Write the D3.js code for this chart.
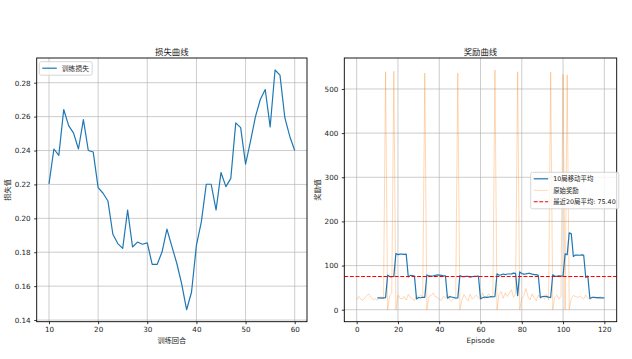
<!DOCTYPE html>
<html><head><meta charset="utf-8">
<script src="https://cdn.jsdelivr.net/npm/d3@7"></script>
<style>
body{margin:0;background:#fff;}
svg text{font-family:"DejaVu Sans","Noto Sans CJK SC",sans-serif;fill:#222;}
</style></head>
<body><svg id="c" width="632" height="359"></svg>
<script>
// ---- data ----
const lossEpisodes = d3.range(10, 61);
const lossValues = [0.2203,0.2409,0.2371,0.2642,0.2547,0.2503,0.2409,0.2582,0.2400,0.2391,
0.2181,0.2148,0.2102,0.1906,0.1851,0.1823,0.2049,0.1831,0.1860,0.1847,
0.1855,0.1728,0.1728,0.1801,0.1936,0.1835,0.1735,0.1614,0.1461,0.1564,
0.1841,0.1979,0.2201,0.2201,0.2049,0.2270,0.2187,0.2236,0.2563,0.2535,
0.2320,0.2454,0.2598,0.2701,0.2760,0.2539,0.2875,0.2845,0.2592,0.2483,0.2400];
const lossXTicks = [10,20,30,40,50,60];
const lossYTicks = [0.14,0.16,0.18,0.20,0.22,0.24,0.26,0.28];

const rawEpisodes = d3.range(0, 120);
const rawRewards = [22,30,24,21,27,33,35,28,22,25,
21,26,30,24,539,0,31,37,540,0,
33,26,24,30,22,35,28,24,21,32,
29,34,26,536,0,30,32,38,30,28,
24,21,30,27,35,23,20,26,31,536,
0,22,34,26,20,35,24,29,33,27,
22,38,25,30,36,27,33,543,0,35,
41,26,38,30,38,45,28,36,539,0,
25,32,48,30,22,36,27,20,33,26,
31,24,35,22,538,0,28,33,24,30,
533,0,532,0,25,32,30,28,30,28,
24,33,26,22,27,27,29,24,31,27];
const maEpisodes = d3.range(10, 121);
const maRewards = [26.7,26.6,26.2,26.8,27.1,78.3,75.0,74.6,75.5,127.3,
124.8,126.0,126.0,125.4,126.0,74.3,77.8,77.5,76.2,24.3,
27.5,27.1,27.9,28.1,78.7,76.5,76.0,76.4,77.8,78.7,
78.3,77.8,76.5,76.9,26.0,29.5,28.8,27.6,26.4,26.5,
77.3,74.9,75.0,75.4,75.3,73.8,75.0,75.4,75.7,75.9,
25.0,27.2,28.8,27.9,28.3,29.9,29.1,30.0,81.4,78.1,
78.9,80.8,79.6,80.9,80.9,81.1,82.9,82.4,31.7,85.6,
82.1,80.5,81.1,82.1,82.1,80.5,79.6,79.5,77.9,27.3,
29.9,30.5,29.7,28.4,27.6,79.2,75.6,75.7,77.0,76.1,
76.5,126.7,124.3,174.0,171.8,120.5,123.7,123.9,123.4,124.0,
123.8,72.9,76.2,25.6,27.8,28.0,27.5,27.4,27.0,27.1,27.0];
const recentMean = 75.40;
const rewardXTicks = [0,20,40,60,80,100,120];
const rewardYTicks = [0,100,200,300,400,500];

const labels = {
  lossTitle: "损失曲线", lossX: "训练回合", lossY: "损失值", lossLegend: "训练损失",
  rewardTitle: "奖励曲线", rewardX: "Episode", rewardY: "奖励值",
  maLegend: "10局移动平均", rawLegend: "原始奖励", meanLegend: "最近20局平均: " + recentMean.toFixed(2)
};

// ---- drawing ----
const svg = d3.select("#c");
const TOP = 58, BOTTOM = 321.7;

function panel(x0, x1, xs, ys, xTicks, yTicks, yFmt, title, xl, yl, ylX) {
  const g = svg.append("g");
  g.append("g").selectAll("line").data(xTicks).join("line")
    .attr("x1", d => xs(d)).attr("x2", d => xs(d)).attr("y1", TOP).attr("y2", BOTTOM)
    .attr("stroke", "#b0b0b0").attr("stroke-opacity", 0.8).attr("stroke-width", 0.8);
  g.append("g").selectAll("line").data(yTicks).join("line")
    .attr("x1", x0).attr("x2", x1).attr("y1", d => ys(d)).attr("y2", d => ys(d))
    .attr("stroke", "#b0b0b0").attr("stroke-opacity", 0.8).attr("stroke-width", 0.8);
  const ax = g.append("g").attr("transform", `translate(0,${BOTTOM})`)
    .call(d3.axisBottom(xs).tickValues(xTicks).tickSize(2.5).tickPadding(2.6).tickFormat(d3.format("d")));
  const ay = g.append("g").attr("transform", `translate(${x0},0)`)
    .call(d3.axisLeft(ys).tickValues(yTicks).tickSize(2.5).tickPadding(3.5).tickFormat(yFmt));
  [ax, ay].forEach(a => {
    a.select(".domain").remove();
    a.selectAll(".tick line").attr("stroke", "#000").attr("stroke-width", 0.8);
    a.selectAll(".tick text").attr("font-size", "7.2px").style("font-family", '"DejaVu Sans",sans-serif');
  });
  g.append("text").attr("x", (x0 + x1) / 2).attr("y", 54.5).attr("text-anchor", "middle")
    .attr("font-size", "8.4px").text(title);
  g.append("text").attr("x", (x0 + x1) / 2).attr("y", 342.5).attr("text-anchor", "middle")
    .attr("font-size", "7.2px").text(xl);
  g.append("text").attr("transform", `translate(${ylX},${(TOP + BOTTOM) / 2}) rotate(-90)`)
    .attr("text-anchor", "middle").attr("font-size", "7.2px").text(yl);
  return g;
}

function spine(x0, x1) {
  svg.append("rect").attr("x", x0).attr("y", TOP).attr("width", x1 - x0).attr("height", BOTTOM - TOP)
    .attr("fill", "none").attr("stroke", "#000").attr("stroke-width", 0.9);
}

function legend(x, y, items, fs) {
  const g = svg.append("g");
  const box = g.append("rect");
  const rowH = 11.5;
  items.forEach((it, i) => {
    const cy = y + 6.5 + i * rowH;
    g.append("line").attr("x1", x + 3).attr("x2", x + 17.5).attr("y1", cy).attr("y2", cy)
      .attr("stroke", it.color).attr("stroke-width", it.w).attr("stroke-opacity", it.op)
      .attr("stroke-dasharray", it.dash || null);
    g.append("text").attr("x", x + 22.5).attr("y", cy + fs * 0.36).attr("font-size", fs + "px").text(it.label);
  });
  const bb = g.node().getBBox();
  box.attr("x", x).attr("y", y).attr("width", bb.x + bb.width - x + 3).attr("height", items.length * rowH + 2)
    .attr("fill", "#fff").attr("fill-opacity", 0.8).attr("stroke", "#ccc").attr("stroke-width", 0.8).attr("rx", 2);
}

// left panel
const L0 = 36.7, L1 = 307;
const lxs = d3.scaleLinear().domain([7.5, 62.5]).range([L0, L1]);
const lmin = d3.min(lossValues), lmax = d3.max(lossValues), lpad = (lmax - lmin) * 0.05;
const lys = d3.scaleLinear().domain([lmin - lpad, lmax + lpad]).range([BOTTOM, TOP]);
panel(L0, L1, lxs, lys, lossXTicks, lossYTicks, d3.format(".2f"), labels.lossTitle, labels.lossX, labels.lossY, 10);
svg.append("path").datum(lossEpisodes.map((e, i) => [e, lossValues[i]]))
  .attr("d", d3.line().x(d => lxs(d[0])).y(d => lys(d[1])))
  .attr("fill", "none").attr("stroke", "#1f77b4").attr("stroke-width", 1.2).attr("stroke-linejoin", "round");
spine(L0, L1);
legend(39.3, 61.7, [{label: labels.lossLegend, color: "#1f77b4", w: 1.2, op: 1}], 6.8);

// right panel
const R0 = 344.3, R1 = 616.7;
const rxs = d3.scaleLinear().domain([-6, 126]).range([R0, R1]);
const rmax = d3.max(rawRewards), rmin = d3.min(rawRewards), rpad = (rmax - rmin) * 0.05;
const rys = d3.scaleLinear().domain([rmin - rpad, rmax + rpad]).range([BOTTOM, TOP]);
panel(R0, R1, rxs, rys, rewardXTicks, rewardYTicks, d3.format("d"), labels.rewardTitle, labels.rewardX, labels.rewardY, 320);
svg.append("clipPath").attr("id", "rc").append("rect")
  .attr("x", R0).attr("y", TOP).attr("width", R1 - R0).attr("height", BOTTOM - TOP);
const rg = svg.append("g").attr("clip-path", "url(#rc)");
rg.append("path").datum(rawEpisodes.map((e, i) => [e, rawRewards[i]]))
  .attr("d", d3.line().x(d => rxs(d[0])).y(d => rys(d[1])))
  .attr("fill", "none").attr("stroke", "#ff7f0e").attr("stroke-opacity", 0.3).attr("stroke-width", 1);
rg.append("path").datum(maEpisodes.map((e, i) => [e, maRewards[i]]))
  .attr("d", d3.line().x(d => rxs(d[0])).y(d => rys(d[1])))
  .attr("fill", "none").attr("stroke", "#1f77b4").attr("stroke-width", 1.2).attr("stroke-linejoin", "round");
rg.append("line").attr("x1", R0).attr("x2", R1).attr("y1", rys(recentMean)).attr("y2", rys(recentMean))
  .attr("stroke", "#ff0000").attr("stroke-width", 1.1).attr("stroke-dasharray", "3.9,1.7");
spine(R0, R1);
legend(530.7, 172.3, [
  {label: labels.maLegend, color: "#1f77b4", w: 1.2, op: 1},
  {label: labels.rawLegend, color: "#ff7f0e", w: 1, op: 0.3},
  {label: labels.meanLegend, color: "#ff0000", w: 1.1, op: 1, dash: "3.9,1.7"}
], 6.4);
</script></body></html>
